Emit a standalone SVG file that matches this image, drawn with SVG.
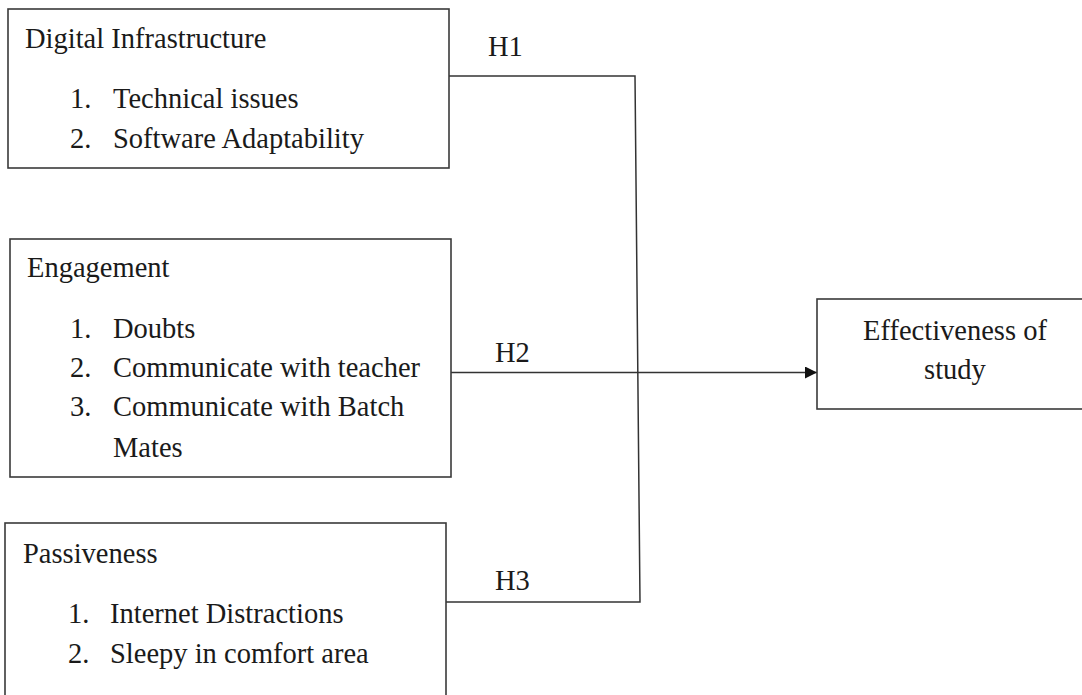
<svg xmlns="http://www.w3.org/2000/svg" width="1082" height="695" viewBox="0 0 1082 695">
<style>
.box{fill:#fff;stroke:#3a3a3a;stroke-width:1.6}
.t{font-family:"Liberation Serif","Times New Roman",serif;font-size:28.5px;fill:#1a1a1a}
.c{fill:none;stroke:#333;stroke-width:1.5}
</style>
<defs>
<marker id="ah" markerWidth="12" markerHeight="12" refX="12" refY="6" orient="auto" markerUnits="userSpaceOnUse">
<path d="M0,0 L12,6 L0,12 Z" fill="#111"/>
</marker>
</defs>
<rect width="1082" height="695" fill="#fff"/>
<g id="connectors">
<polyline class="c" points="449,76 635,76 640,602 446,602"/>
<line class="c" x1="451" y1="372.5" x2="817" y2="372.5" marker-end="url(#ah)"/>
<text class="t" x="488" y="56">H1</text>
<text class="t" x="495" y="362">H2</text>
<text class="t" x="495" y="590">H3</text>
</g>
<g id="digital">
<rect class="box" x="8" y="9" width="441" height="159"/>
<text class="t" x="25" y="48">Digital Infrastructure</text>
<text class="t" x="70" y="108">1.</text><text class="t" x="113" y="108">Technical issues</text>
<text class="t" x="70" y="148">2.</text><text class="t" x="113" y="148">Software Adaptability</text>
</g>
<g id="engagement">
<rect class="box" x="10" y="239" width="441" height="238"/>
<text class="t" x="27" y="277">Engagement</text>
<text class="t" x="70" y="338">1.</text><text class="t" x="113" y="338">Doubts</text>
<text class="t" x="70" y="377">2.</text><text class="t" x="113" y="377">Communicate with teacher</text>
<text class="t" x="70" y="416">3.</text><text class="t" x="113" y="416">Communicate with Batch</text>
<text class="t" x="113" y="457">Mates</text>
</g>
<g id="passiveness">
<rect class="box" x="5" y="523" width="441" height="190"/>
<text class="t" x="23" y="563">Passiveness</text>
<text class="t" x="68" y="623">1.</text><text class="t" x="110" y="623">Internet Distractions</text>
<text class="t" x="68" y="663">2.</text><text class="t" x="110" y="663">Sleepy in comfort area</text>
</g>
<g id="effectiveness">
<rect class="box" x="817" y="299" width="280" height="110"/>
<text class="t" x="955" y="340" text-anchor="middle">Effectiveness of</text>
<text class="t" x="955" y="379" text-anchor="middle">study</text>
</g>
</svg>
